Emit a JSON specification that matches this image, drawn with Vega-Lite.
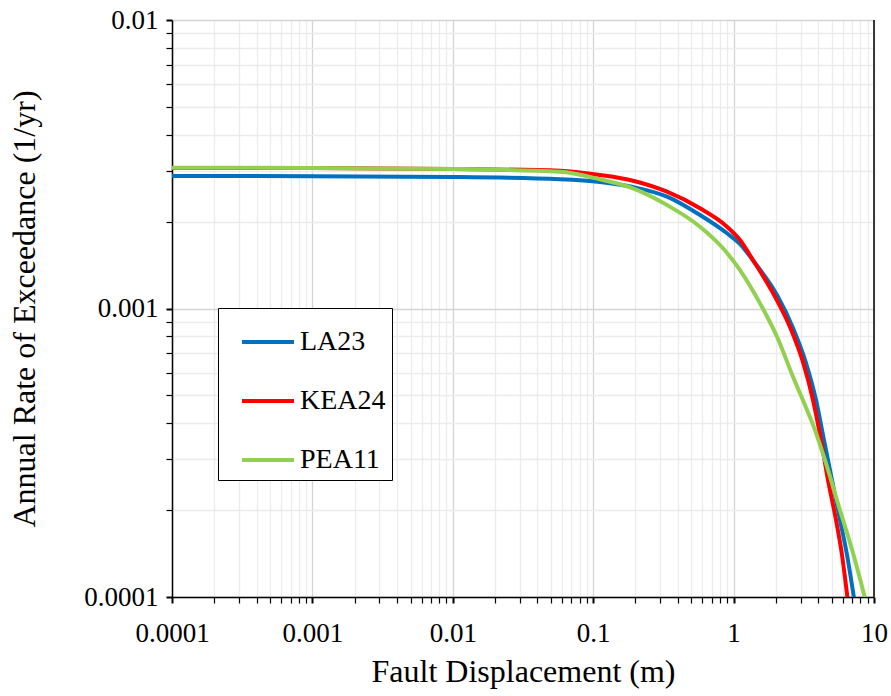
{
  "$schema": "https://vega.github.io/schema/vega-lite/v6.json",
  "width": 702,
  "height": 577,
  "autosize": {"type": "none"},
  "padding": {"left": 172, "top": 20, "right": 17, "bottom": 99},
  "background": "white",
  "config": {"view": {"stroke": null}, "font": "Liberation Serif"},
  "data": {"values": [
    {"model": "LA23", "d": 0.0001, "rate": 0.002879},
    {"model": "LA23", "d": 0.001, "rate": 0.002875},
    {"model": "LA23", "d": 0.01, "rate": 0.002856},
    {"model": "LA23", "d": 0.058, "rate": 0.002804},
    {"model": "LA23", "d": 0.1118, "rate": 0.002745},
    {"model": "LA23", "d": 0.1921, "rate": 0.002637},
    {"model": "LA23", "d": 0.3354, "rate": 0.002441},
    {"model": "LA23", "d": 0.5763, "rate": 0.002109},
    {"model": "LA23", "d": 0.8975, "rate": 0.001823},
    {"model": "LA23", "d": 1.111, "rate": 0.001673},
    {"model": "LA23", "d": 1.42, "rate": 0.001438},
    {"model": "LA23", "d": 2.038, "rate": 0.001113},
    {"model": "LA23", "d": 2.649, "rate": 0.000856},
    {"model": "LA23", "d": 3.28, "rate": 0.000647},
    {"model": "LA23", "d": 3.863, "rate": 0.000482},
    {"model": "LA23", "d": 4.405, "rate": 0.00035},
    {"model": "LA23", "d": 5.022, "rate": 0.000254},
    {"model": "LA23", "d": 5.726, "rate": 0.000185},
    {"model": "LA23", "d": 6.424, "rate": 0.0001398},
    {"model": "LA23", "d": 7.203, "rate": 0.0000992},
    {"model": "KEA24", "d": 0.0001, "rate": 0.003069},
    {"model": "KEA24", "d": 0.001, "rate": 0.003069},
    {"model": "KEA24", "d": 0.01, "rate": 0.003045},
    {"model": "KEA24", "d": 0.058, "rate": 0.003004},
    {"model": "KEA24", "d": 0.1118, "rate": 0.002902},
    {"model": "KEA24", "d": 0.1921, "rate": 0.002773},
    {"model": "KEA24", "d": 0.3354, "rate": 0.00254},
    {"model": "KEA24", "d": 0.5763, "rate": 0.002225},
    {"model": "KEA24", "d": 0.8975, "rate": 0.001921},
    {"model": "KEA24", "d": 1.111, "rate": 0.001727},
    {"model": "KEA24", "d": 1.374, "rate": 0.001472},
    {"model": "KEA24", "d": 1.909, "rate": 0.001131},
    {"model": "KEA24", "d": 2.522, "rate": 0.000863},
    {"model": "KEA24", "d": 3.122, "rate": 0.000652},
    {"model": "KEA24", "d": 3.678, "rate": 0.000482},
    {"model": "KEA24", "d": 4.194, "rate": 0.00035},
    {"model": "KEA24", "d": 4.703, "rate": 0.000254},
    {"model": "KEA24", "d": 5.362, "rate": 0.000185},
    {"model": "KEA24", "d": 5.917, "rate": 0.0001398},
    {"model": "KEA24", "d": 6.477, "rate": 0.0000992},
    {"model": "PEA11", "d": 0.0001, "rate": 0.003076},
    {"model": "PEA11", "d": 0.001, "rate": 0.00307},
    {"model": "PEA11", "d": 0.01, "rate": 0.003045},
    {"model": "PEA11", "d": 0.058, "rate": 0.00298},
    {"model": "PEA11", "d": 0.1118, "rate": 0.002804},
    {"model": "PEA11", "d": 0.1921, "rate": 0.002609},
    {"model": "PEA11", "d": 0.3354, "rate": 0.002284},
    {"model": "PEA11", "d": 0.5763, "rate": 0.001921},
    {"model": "PEA11", "d": 0.8404, "rate": 0.001617},
    {"model": "PEA11", "d": 1.111, "rate": 0.001359},
    {"model": "PEA11", "d": 1.542, "rate": 0.001042},
    {"model": "PEA11", "d": 2.038, "rate": 0.000798},
    {"model": "PEA11", "d": 2.649, "rate": 0.00058},
    {"model": "PEA11", "d": 3.333, "rate": 0.000445},
    {"model": "PEA11", "d": 3.801, "rate": 0.000379},
    {"model": "PEA11", "d": 4.477, "rate": 0.000298},
    {"model": "PEA11", "d": 5.726, "rate": 0.0002},
    {"model": "PEA11", "d": 7.087, "rate": 0.0001421},
    {"model": "PEA11", "d": 8.627, "rate": 0.0000992}
  ]},
  "layer": [
    {
      "mark": {"type": "line", "strokeWidth": 4, "clip": true, "interpolate": "monotone"},
      "encoding": {
        "x": {
          "field": "d", "type": "quantitative",
          "title": "Fault Displacement (m)",
          "scale": {"type": "log", "domain": [0.0001, 10], "nice": false},
          "axis": {
            "values": [0.0001,0.0002,0.0003,0.0004,0.0005,0.0006,0.0007,0.0008,0.0009,0.001,0.002,0.003,0.004,0.005,0.006,0.007,0.008,0.009,0.01,0.02,0.03,0.04,0.05,0.06,0.07,0.08,0.09,0.1,0.2,0.3,0.4,0.5,0.6,0.7,0.8,0.9,1,2,3,4,5,6,7,8,9,10],
            "format": "~g",
            "labelExpr": "abs(log(datum.value)/LN10 - round(log(datum.value)/LN10)) < 0.001 ? datum.label : ''",
            "labelFont": "Liberation Serif", "labelFontSize": 27, "labelColor": "black",
            "labelPadding": 17, "labelOverlap": false, "labelFlush": false, "labelBound": false,
            "tickColor": "black", "tickSize": 6,
            "tickWidth": {"condition": {"test": "abs(log(datum.value)/LN10 - round(log(datum.value)/LN10)) < 0.001", "value": 2}, "value": 1.2},
            "domainColor": "black", "domainWidth": 1.5,
            "grid": true,
            "gridColor": {"condition": {"test": "abs(log(datum.value)/LN10 - round(log(datum.value)/LN10)) < 0.001", "value": "#d4d4d4"}, "value": "#ececec"},
            "gridWidth": 1.3,
            "titleFont": "Liberation Serif", "titleFontSize": 32, "titleFontWeight": "normal", "titleColor": "black", "titlePadding": 10,
            "encode": {"ticks": {"update": {"y": {"value": -6}}}}
          }
        },
        "y": {
          "field": "rate", "type": "quantitative",
          "title": "Annual Rate of Exceedance (1/yr)",
          "scale": {"type": "log", "domain": [0.0001, 0.01], "nice": false},
          "axis": {
            "values": [0.0001,0.0002,0.0003,0.0004,0.0005,0.0006,0.0007,0.0008,0.0009,0.001,0.002,0.003,0.004,0.005,0.006,0.007,0.008,0.009,0.01],
            "format": "~g",
            "labelExpr": "abs(log(datum.value)/LN10 - round(log(datum.value)/LN10)) < 0.001 ? datum.label : ''",
            "labelFont": "Liberation Serif", "labelFontSize": 27, "labelColor": "black",
            "labelPadding": 8, "labelOverlap": false, "labelFlush": false, "labelBound": false,
            "tickColor": "black", "tickSize": 6,
            "tickWidth": {"condition": {"test": "abs(log(datum.value)/LN10 - round(log(datum.value)/LN10)) < 0.001", "value": 2}, "value": 1.2},
            "domainColor": "black", "domainWidth": 1.5,
            "grid": true,
            "gridColor": {"condition": {"test": "abs(log(datum.value)/LN10 - round(log(datum.value)/LN10)) < 0.001", "value": "#d4d4d4"}, "value": "#ececec"},
            "gridWidth": 1.3,
            "titleFont": "Liberation Serif", "titleFontSize": 32, "titleFontWeight": "normal", "titleColor": "black", "titlePadding": 42,
            "encode": {"ticks": {"update": {"x": {"value": 6}}}}
          }
        },
        "color": {
          "field": "model", "type": "nominal",
          "scale": {"domain": ["LA23", "KEA24", "PEA11"], "range": ["#0070C0", "#FF0000", "#92D050"]},
          "legend": {
            "orient": "none", "legendX": 46, "legendY": 288,
            "title": null,
            "symbolType": "stroke", "symbolSize": 2700, "symbolStrokeWidth": 4,
            "symbolOffset": 16,
            "labelFont": "Liberation Serif", "labelFontSize": 28, "labelColor": "black", "labelOffset": 4,
            "rowPadding": 17, "padding": 6,
            "strokeColor": "black", "fillColor": "white"
          }
        }
      }
    },
    {
      "data": {"values": [{"d": 10}]},
      "mark": {"type": "rule", "color": "black", "strokeWidth": 1.5},
      "encoding": {"x": {"field": "d", "type": "quantitative"}}
    }
  ]
}
